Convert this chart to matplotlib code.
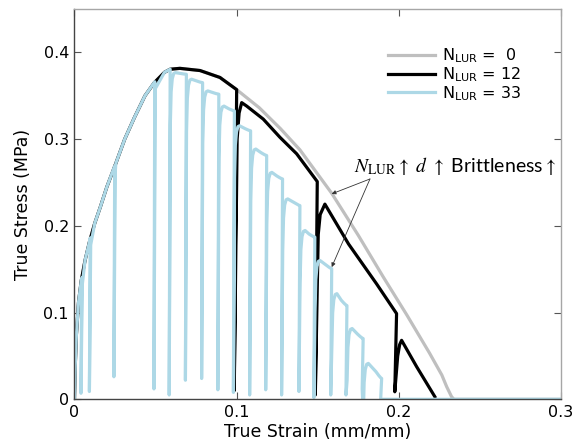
import matplotlib
matplotlib.use('Agg')
import matplotlib.pyplot as plt

# ---------------- data ----------------
# shared pre-peak envelope (strain mm/mm, stress MPa)
env_strain = [0, 0.0005, 0.0012, 0.0025, 0.0042, 0.0065, 0.0093, 0.0125, 0.016,
              0.02, 0.0255, 0.031, 0.037, 0.0435, 0.0492, 0.0555, 0.059]
env_stress = [0, 0.04, 0.075, 0.112, 0.137, 0.16, 0.182, 0.203, 0.222,
              0.245, 0.272, 0.3, 0.325, 0.35, 0.365, 0.377, 0.3805]

# common plateau after peak (N=0 and N=12)
peak_strain = [0.065, 0.0774, 0.0897, 0.1]
peak_stress = [0.3815, 0.379, 0.371, 0.357]

# N_LUR = 0 softening tail
grey_tail_strain = [0.114, 0.127, 0.139, 0.1586, 0.175, 0.1904, 0.205, 0.219,
                    0.2265, 0.2295, 0.2325, 0.234, 0.3]
grey_tail_stress = [0.336, 0.312, 0.2876, 0.2375, 0.189, 0.141, 0.097, 0.053,
                    0.028, 0.0145, 0.003, 0.0, 0.0]

# N_LUR = 12 softening tail (with unload / reload cycles)
black_tail_strain = [0.0985, 0.1003, 0.1015, 0.1031, 0.1062, 0.1164, 0.1267, 0.137,
                     0.1497, 0.1485, 0.1503, 0.1515, 0.1544, 0.169, 0.1863, 0.1986,
                     0.1975, 0.1993, 0.2005, 0.2017, 0.211, 0.2222]
black_tail_stress = [0.010, 0.300, 0.330, 0.342, 0.338, 0.323, 0.302, 0.283,
                     0.251, 0.005, 0.190, 0.213, 0.225, 0.179, 0.133, 0.0988,
                     0.0087, 0.050, 0.063, 0.068, 0.0375, 0.003]

# N_LUR = 33: pre-peak unloads
pre_unload_strain = [0.0045, 0.0097, 0.0248, 0.0495]
pre_unload_stress = [0.140, 0.186, 0.269, 0.366]
pre_bottom_stress = [0.007, 0.009, 0.026, 0.012]

# N_LUR = 33: post-peak cycles
post_unload_strain = [0.059, 0.069, 0.079, 0.089, 0.0986, 0.1086, 0.1185, 0.1283,
                      0.139, 0.1482, 0.1586, 0.168, 0.178, 0.1894]
post_bottom_stress = [0.005, 0.022, 0.024, 0.011, 0.008, 0.005, 0.011, 0.005,
                      0.009, 0.002, 0.005, 0.005, 0.012, 0.0]
post_top_stress = [0.3766, 0.369, 0.3555, 0.338, 0.3153, 0.2885, 0.2616, 0.231,
                   0.1946, 0.160, 0.1218, 0.0816, 0.0414]
post_end_stress = [0.3747, 0.365, 0.3517, 0.3325, 0.3095, 0.281, 0.254, 0.2233,
                   0.187, 0.1506, 0.108, 0.070, 0.024]
strain_end = 0.3

labels = ["N$_{\\mathregular{LUR}}$ =  0", "N$_{\\mathregular{LUR}}$ = 12",
          "N$_{\\mathregular{LUR}}$ = 33"]
x_ticks = [0, 0.1, 0.2, 0.3]
x_ticklabels = ['0', '0.1', '0.2', '0.3']
y_ticks = [0, 0.1, 0.2, 0.3, 0.4]
y_ticklabels = ['0', '0.1', '0.2', '0.3', '0.4']

# ---------------- build paths ----------------
grey_x = env_strain + peak_strain + grey_tail_strain
grey_y = env_stress + peak_stress + grey_tail_stress

black_x = env_strain + peak_strain + black_tail_strain
black_y = env_stress + peak_stress + black_tail_stress

bx, by = [], []
k = 0
for e, s in zip(env_strain, env_stress):
    while k < len(pre_unload_strain) and pre_unload_strain[k] < e:
        u = pre_unload_strain[k]
        su = pre_unload_stress[k]
        bx += [u, u - 0.0005, u + 0.0003]
        by += [su, pre_bottom_stress[k], su - 0.008]
        k += 1
    bx.append(e)
    by.append(s)

n_cyc = len(post_top_stress)
for i, u in enumerate(post_unload_strain):
    bx.append(u - 0.0006)
    by.append(post_bottom_stress[i])
    if i < n_cyc:
        top = post_top_stress[i]
        end = post_end_stress[i]
        un = post_unload_strain[i + 1]
        d = top - end
        bx += [u + 0.0001, u + 0.0006, u + 0.0013, u + 0.0022, u + 0.0032,
               un - 0.0035, un - 0.0018, un - 0.0006, un]
        by += [top - 0.06, top - 0.022, top - 0.007, top - 0.001, top,
               end + 0.45 * d, end + 0.2 * d, end + 0.05 * d, end]
    else:
        bx += [strain_end]
        by += [0.0]

# ---------------- figure ----------------
fig = plt.figure(figsize=(5.76, 4.47), dpi=100)
ax = fig.add_axes([0.1293, 0.1067, 0.8447, 0.8733])

lw = 2.3
ax.plot(grey_x, grey_y, color='#bfbfbf', lw=lw, label=labels[0],
        solid_joinstyle='round')
ax.plot(black_x, black_y, color='black', lw=lw, label=labels[1],
        solid_joinstyle='round')
ax.plot(bx, by, color='#add8e6', lw=lw, label=labels[2], solid_joinstyle='round')

ax.set_xlim(0, 0.3)
ax.set_ylim(0, 0.45)
ax.set_xticks(x_ticks)
ax.set_xticklabels(x_ticklabels)
ax.set_yticks(y_ticks)
ax.set_yticklabels(y_ticklabels)
ax.tick_params(direction='in', top=True, right=True, length=5, width=0.8,
               labelsize=11.5, color='#555555', pad=4)
for side in ['left', 'bottom']:
    ax.spines[side].set_color('#444444')
for side in ['top', 'right']:
    ax.spines[side].set_color('#a6a6a6')
for sp in ax.spines.values():
    sp.set_linewidth(1.0)

ax.set_xlabel('True Strain (mm/mm)', fontsize=12.5, labelpad=2)
ax.set_ylabel('True Stress (MPa)', fontsize=12.5, labelpad=8)

leg = ax.legend(loc='upper left', bbox_to_anchor=(0.632, 0.92), frameon=False,
                fontsize=11.5, handlelength=2.9, handletextpad=0.45,
                labelspacing=0.0, borderaxespad=0)

ax.text(0.1725, 0.262, r"$N_{\mathrm{LUR}}\uparrow\ d\ \uparrow$ Brittleness$\uparrow$",
        fontsize=14, math_fontfamily='stix', family='Lato', color='black')

arrow_props = dict(arrowstyle='-|>', lw=0.6, color='#333333', mutation_scale=6,
                   shrinkA=0, shrinkB=0)
ax.annotate('', xy=(0.1586, 0.2368), xytext=(0.1822, 0.254), arrowprops=arrow_props)
ax.annotate('', xy=(0.1586, 0.1524), xytext=(0.1822, 0.254), arrowprops=arrow_props)

fig.savefig('out.png', dpi=100)
